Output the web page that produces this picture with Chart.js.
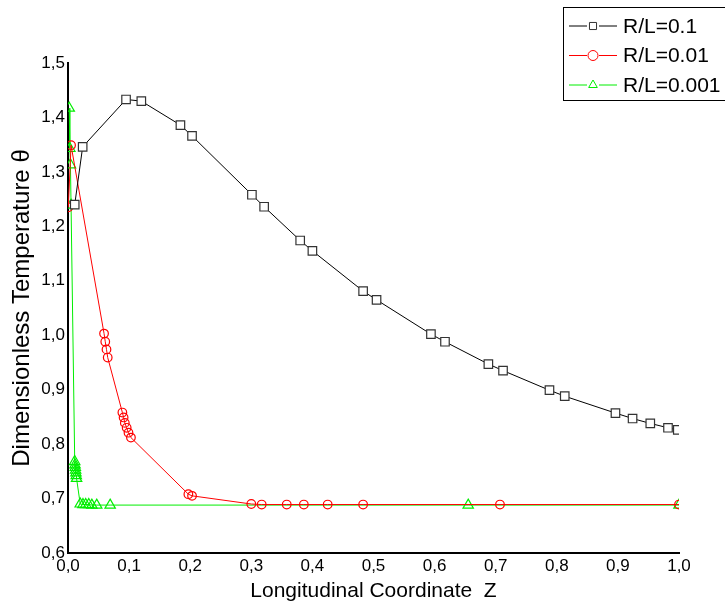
<!DOCTYPE html>
<html>
<head>
<meta charset="utf-8">
<script src="https://cdn.jsdelivr.net/npm/chart.js@4/dist/chart.umd.min.js"></script>
<style>
  html, body { margin: 0; padding: 0; background: #fff; }
  #wrap { width: 725px; height: 610px; position: relative; }
</style>
</head>
<body>
<div id="wrap"><canvas id="graphique"></canvas></div>
<script>
// Données -- Z longitudinal, theta adimensionnel
const zRL01 = [0.011, 0.024, 0.095, 0.12, 0.184, 0.203, 0.301, 0.321, 0.380, 0.400, 0.483, 0.505,
    0.594, 0.617, 0.688, 0.712, 0.788, 0.813, 0.896, 0.924, 0.953, 0.982, 0.998];
const thetaRL01 = [1.240, 1.346, 1.433, 1.430, 1.386, 1.366, 1.258, 1.236, 1.174, 1.155, 1.081, 1.065,
    1.002, 0.988, 0.947, 0.935, 0.899, 0.888, 0.857, 0.847, 0.838, 0.830, 0.826];

const zRL001 = [0.0005, 0.005, 0.059, 0.061, 0.063, 0.065, 0.089, 0.091, 0.093, 0.096, 0.099, 0.103,
    0.197, 0.203, 0.300, 0.317, 0.358, 0.386, 0.425, 0.483, 0.707, 1.0];
const thetaRL001 = [1.235, 1.349, 1.003, 0.988, 0.974, 0.959, 0.858, 0.849, 0.839, 0.830, 0.821, 0.812,
    0.708, 0.705, 0.690, 0.689, 0.689, 0.689, 0.689, 0.689, 0.689, 0.689];

const zRL0001 = [0.002, 0.003, 0.004, 0.005, 0.011, 0.0115, 0.012, 0.0125, 0.013, 0.0135, 0.014,
    0.020, 0.0245, 0.029, 0.034, 0.039, 0.047, 0.069, 0.655, 1.0];
const thetaRL0001 = [1.417, 1.343, 1.313, 1.239, 0.768, 0.762, 0.757, 0.752, 0.747, 0.742, 0.737,
    0.690, 0.689, 0.689, 0.689, 0.688, 0.688, 0.688, 0.688, 0.688];

const labelsSeries = ["R/L=0.1", "R/L=0.01", "R/L=0.001"];
const couleurs = ["#000000", "#ff0000", "#00ee00"];
const styles = ["rect", "circle", "triangle"];

// Transforme deux tableaux en points {x,y}
function points(zs, ts) {
    return zs.map((z, i) => ({ x: z, y: ts[i] }));
}

// virgule décimale comme sur la figure
function virgule(v) {
    return v.toFixed(1).replace(".", ",");
}

const police = "'Liberation Sans', Arial, sans-serif";

const datasets = [
    { data: points(zRL01, thetaRL01), pointRadius: 6, pointBackgroundColor: "#ffffff" },
    { data: points(zRL001, thetaRL001), pointRadius: 4.3, pointBackgroundColor: "rgba(0,0,0,0)" },
    { data: points(zRL0001, thetaRL0001), pointRadius: 6, pointBackgroundColor: "rgba(0,0,0,0)" }
].map((d, i) => Object.assign(d, {
    label: labelsSeries[i],
    showLine: true,
    borderColor: couleurs[i],
    borderWidth: 1,
    pointStyle: styles[i],
    pointBorderColor: i === 0 ? "#333333" : couleurs[i],
    pointBorderWidth: 1.2,
    tension: 0
}));

// Légende encadrée en haut à droite
const legendeBoite = {
    id: "legendeBoite",
    afterDraw(chart) {
        const ctx = chart.ctx;
        ctx.save();
        ctx.strokeStyle = "#000";
        ctx.lineWidth = 1;
        ctx.strokeRect(563.5, 7.5, 170, 93);
        ctx.font = "21px " + police;
        ctx.textBaseline = "middle";
        ctx.textAlign = "left";
        chart.data.datasets.forEach((ds, i) => {
            const y = 26 + i * 29.5;
            ctx.strokeStyle = ds.borderColor;
            ctx.lineWidth = 1;
            ctx.beginPath();
            ctx.moveTo(569, y);
            ctx.lineTo(587, y);
            ctx.moveTo(599, y);
            ctx.lineTo(617, y);
            ctx.stroke();
            ctx.fillStyle = "#fff";
            ctx.strokeStyle = ds.pointBorderColor;
            Chart.helpers.drawPoint(ctx, {
                pointStyle: ds.pointStyle, radius: 5, rotation: 0, borderWidth: 1
            }, 593, y);
            ctx.fillStyle = "#000";
            ctx.fillText(ds.label, 623, y + 1);
        });
        ctx.restore();
    }
};

new Chart(document.querySelector("#graphique"), {
    type: "scatter",
    data: { datasets: datasets },
    options: {
        responsive: true,
        maintainAspectRatio: false,
        animation: false,
        layout: { padding: { top: 63, right: 46, left: 0, bottom: 0 } },
        plugins: { legend: { display: false }, tooltip: { enabled: false } },
        scales: {
            x: {
                type: "linear",
                min: 0, max: 1,
                grid: { display: false, drawTicks: false },
                border: { display: true, color: "#000", width: 2 },
                ticks: { stepSize: 0.1, padding: 3, color: "#000", font: { family: police, size: 17 },
                    maxRotation: 0, callback: virgule },
                title: { display: true, text: "Longitudinal Coordinate  Z", color: "#000",
                    font: { family: police, size: 21 }, padding: { top: 0, bottom: 6 } },
                afterFit(scale) { scale.height = 57; }
            },
            y: {
                type: "linear",
                min: 0.6, max: 1.5,
                grid: { display: false, drawTicks: false },
                border: { display: true, color: "#000", width: 2 },
                ticks: { stepSize: 0.1, padding: 3, color: "#000", font: { family: police, size: 17 },
                    callback: virgule },
                title: { display: true, text: "Dimensionless Temperature θ", color: "#000",
                    font: { family: police, size: 24 }, padding: { top: 8, bottom: 0 } },
                afterFit(scale) { scale.width = 68; }
            }
        }
    },
    plugins: [legendeBoite]
});
</script>
</body>
</html>
